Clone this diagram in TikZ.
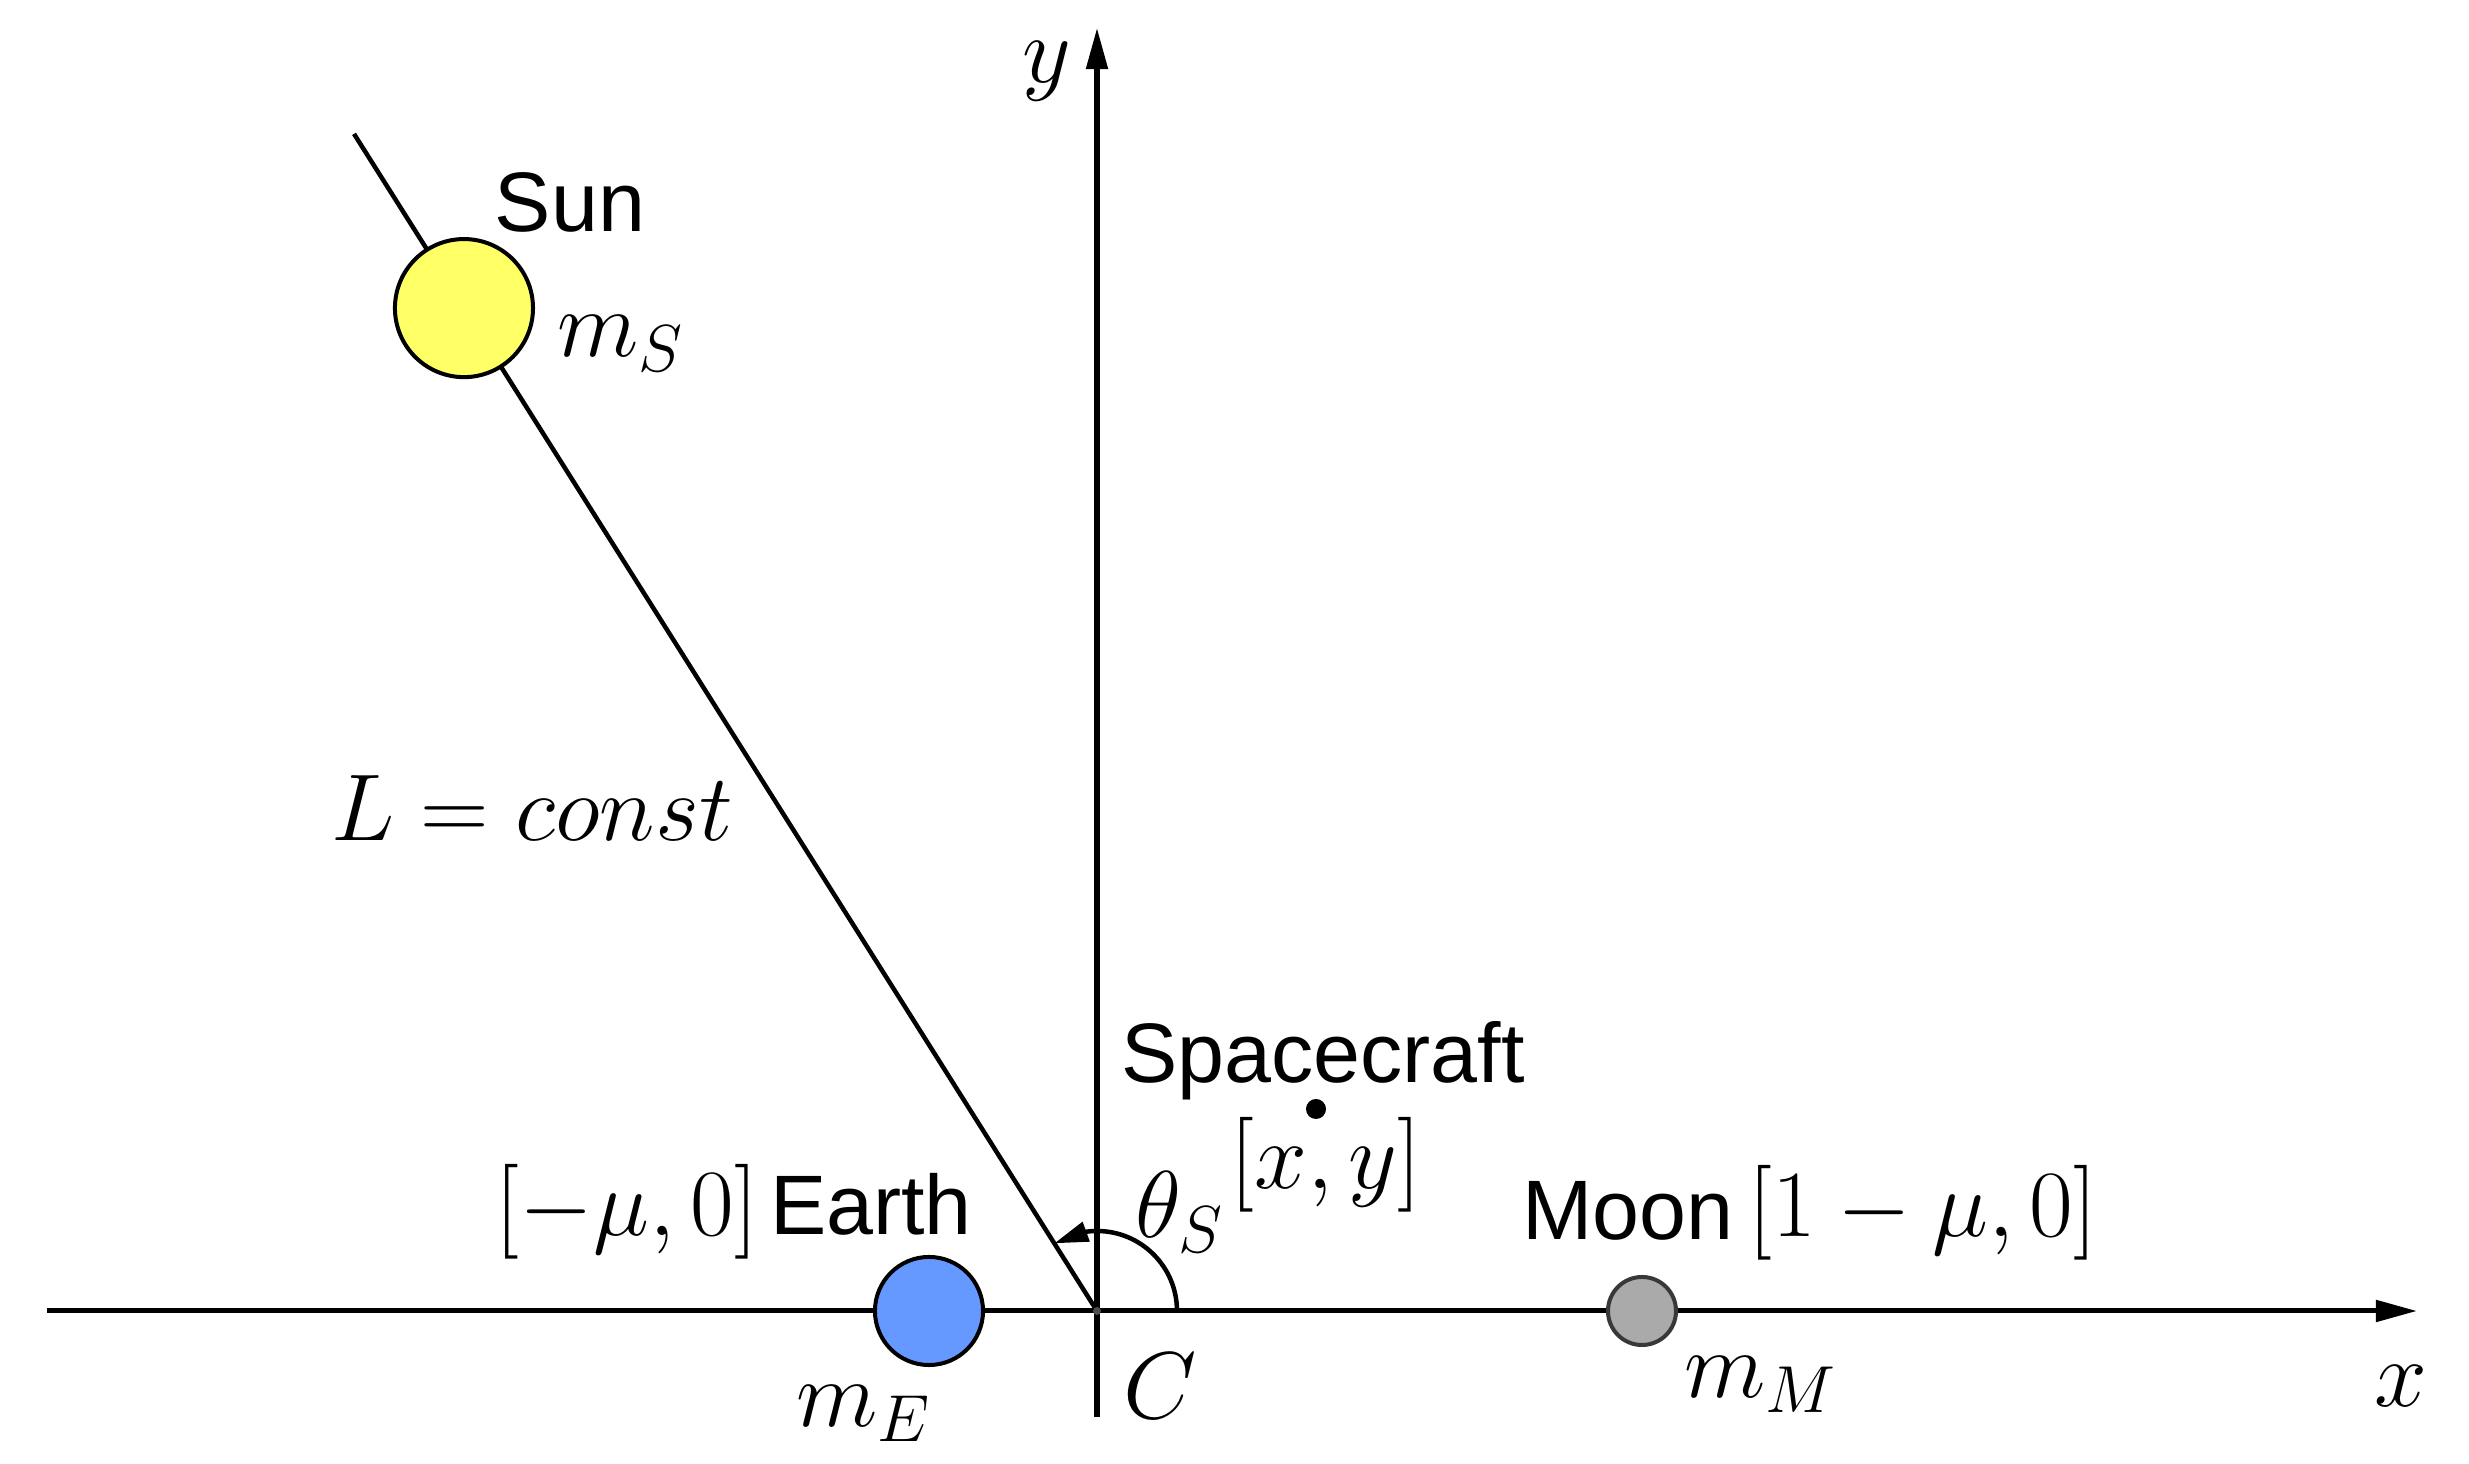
\RequirePackage{fix-cm}
\documentclass[tikz,border=0pt]{standalone}
\usepackage{fontspec}
\newfontfamily\lsans{Liberation Sans}
\usetikzlibrary{arrows.meta,bending}
\definecolor{sunfill}{HTML}{FFFF66}
\definecolor{earthfill}{HTML}{6699FF}
\definecolor{moonfill}{HTML}{AAAAAA}
\definecolor{moonline}{HTML}{383838}
\begin{document}
\begin{tikzpicture}[x=0.01cm,y=0.01cm,
  axis/.style={line width=0.05cm, -{Triangle[length=0.41cm,width=0.21cm]}},
  thinline/.style={line width=0.045cm},
  body/.style={circle, draw, line width=0.04cm, inner sep=0pt},
  sanslabel/.style={font=\lsans\fontsize{24}{28}\selectfont, inner sep=0pt},
  mathlabel/.style={font=\fontsize{27}{32}\selectfont, inner sep=0pt}]
\useasboundingbox (-1097,-153) rectangle (1372,1311);

\coordinate (C) at (0,0);
\coordinate (xstart) at (-1050,0);
\coordinate (xend) at (1320,0);
\coordinate (ystart) at (0,-106);
\coordinate (yend) at (0,1283);
\coordinate (sunend) at (122.26:1392);
\coordinate (arcstart) at (80,0);

% Sun line
\draw[thinline] (C) -- (sunend);
% axes
\draw[axis] (xstart) -- (xend);
\draw[axis] (ystart) -- (yend);
% angle arc
\draw[thinline, -{Triangle[length=0.34cm,width=0.2cm]}] (arcstart) arc[start angle=0, end angle=122.26, radius=80];

% origin dot
\node[circle, fill=gray!60!black, inner sep=0pt, minimum size=0.08cm] (Cdot) at (C) {};

% bodies
\node[body, fill=sunfill, minimum size=1.38cm] (sun) at (122.26:1186) {};
\node[body, fill=earthfill, minimum size=1.08cm] (earth) at (-168,0) {};
\node[body, fill=moonfill, draw=moonline, minimum size=0.68cm] (moon) at (545,0) {};
\node[circle, fill=black, inner sep=0pt, minimum size=0.2cm] (sc) at (219,202) {};

% labels
\node[sanslabel, anchor=base] (sunlab) at (-527,1079) {Sun};
\node[mathlabel, anchor=base] (mS) at (-476,954) {$m_S$};
\node[mathlabel] (Llab) at (-565,503) {$L = const$};
\node[sanslabel, anchor=base] (sclab) at (226,228) {Spacecraft};
\node[mathlabel, anchor=base] (xy) at (229,122) {$[x,y]$};
\node[mathlabel] (theta) at (83,99) {$\theta_S$};
\node[mathlabel, anchor=base] (epos) at (-470,75) {$[-\mu,0]$};
\node[sanslabel, anchor=base] (elab) at (-226,76) {Earth};
\node[mathlabel, anchor=base] (mE) at (-233,-116) {$m_E$};
\node[mathlabel] (Clab) at (63,-75) {$C$};
\node[sanslabel, anchor=base] (mlab) at (531,71) {Moon};
\node[mathlabel, anchor=base] (mpos) at (826,74) {$[1-\mu,0]$};
\node[mathlabel, anchor=base] (mM) at (664,-87) {$m_M$};
\node[mathlabel] (xlab) at (1304,-75) {$x$};
\node[mathlabel] (ylab) at (-50,1240) {$y$};
\end{tikzpicture}
\end{document}
